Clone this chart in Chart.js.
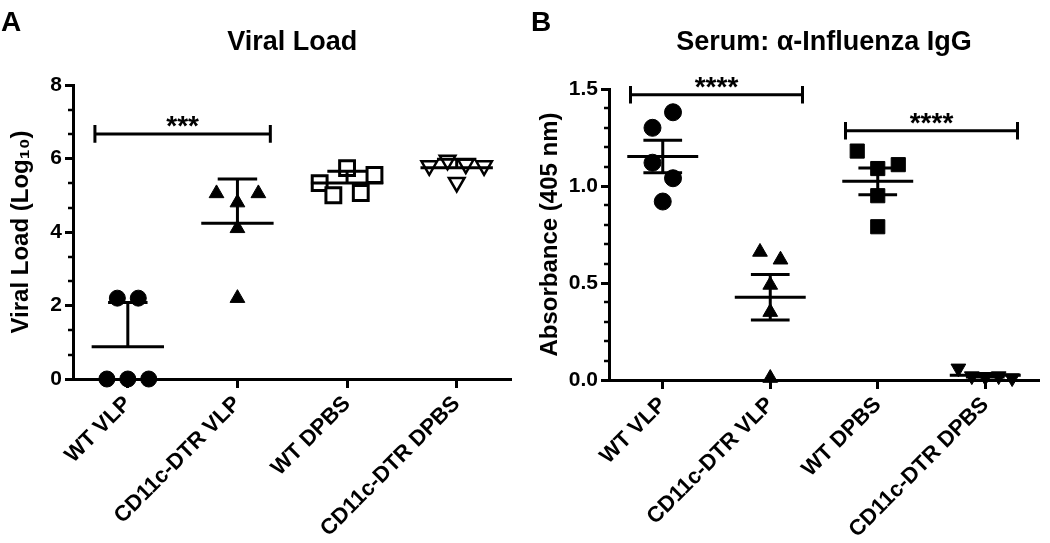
<!DOCTYPE html>
<html>
<head>
<meta charset="utf-8">
<script src="https://cdn.jsdelivr.net/npm/chart.js@4.4.1/dist/chart.umd.min.js"></script>
<style>
  html, body { margin: 0; padding: 0; background: #fff; }
  body { width: 1050px; height: 543px; position: relative; overflow: hidden; }
  .panel { position: absolute; top: 0; width: 525px; height: 543px; }
  .letter { position: absolute; font: bold 28px 'Liberation Sans', Arial, sans-serif; line-height: 28px; color: #000; }
</style>
</head>
<body>
<div class="panel" style="left:0"><canvas id="chartA" width="525" height="543"></canvas></div>
<div class="panel" style="left:525px"><canvas id="chartB" width="525" height="543"></canvas></div>
<div class="letter" style="left:1px;top:8px">A</div>
<div class="letter" style="left:531px;top:8px">B</div>
<script>
const groups = ['WT VLP', 'CD11c-DTR VLP', 'WT DPBS', 'CD11c-DTR DPBS'];

// Panel A - viral load (log10), mean + SD
const loadWtVlp = [0, 0, 0, 2.2, 2.2];
const loadDtrVlp = [5.05, 4.8, 5.05, 4.1, 2.2];
const loadWtDpbs = [5.33, 5.0, 5.74, 5.06, 5.55];
const loadDtrDpbs = [5.8, 5.95, 5.85, 5.8, 5.35];
const loadTicks = [0, 2, 4, 6, 8];
const loadSig = [[0, 1, 6.67, '***']];

// Panel B - serum anti-influenza IgG (A405), mean +/- SEM
const absWtVlp = [1.30, 1.38, 1.12, 1.04, 0.92];
const absDtrVlp = [0.66, 0.62, 0.49, 0.35, 0.01];
const absWtDpbs = [1.18, 1.09, 1.11, 0.95, 0.79];
const absDtrDpbs = [0.06, 0.02, 0.015, 0.02, 0.01];
const absTicks = [0, 0.5, 1.0, 1.5];
const absSig = [[0, 1, 1.47, '****'], [2, 3, 1.285, '****']];

const FONT = "'Liberation Sans', Arial, sans-serif";
const CAT_PX = 110;

function stats(vals) {
  const n = vals.length;
  const mean = vals.reduce((a, b) => a + b, 0) / n;
  const sd = Math.sqrt(vals.reduce((a, v) => a + (v - mean) * (v - mean), 0) / (n - 1));
  return { mean, sd, sem: sd / Math.sqrt(n) };
}

// spread points with close values sideways, like a column scatter
function swarm(vals, pxPerUnit, gap) {
  const idx = vals.map((v, i) => i).sort((a, b) => vals[a] - vals[b]);
  const clusters = [];
  let cur = [idx[0]];
  for (let k = 1; k < idx.length; k++) {
    if ((vals[idx[k]] - vals[idx[k - 1]]) * pxPerUnit < gap) cur.push(idx[k]);
    else { clusters.push(cur); cur = [idx[k]]; }
  }
  clusters.push(cur);
  const off = vals.map(() => 0);
  clusters.forEach(c => {
    const n = c.length;
    if (n < 2) return;
    c.sort((a, b) => a - b);
    const s = Math.min(21, 55 / (n - 1));
    c.forEach((i, k) => { off[i] = (k - (n - 1) / 2) * s; });
  });
  return off.map(o => o / CAT_PX);
}

const minorTicks = {
  id: 'minorTicks',
  afterDraw(chart, args, opts) {
    const y = chart.scales.y, ctx = chart.ctx, left = chart.chartArea.left;
    ctx.save();
    ctx.strokeStyle = '#000';
    ctx.lineWidth = 2.5;
    for (let k = 0; k < opts.majors.length - 1; k++) {
      const a = opts.majors[k], b = opts.majors[k + 1];
      for (let j = 1; j < opts.parts; j++) {
        const py = Math.round(y.getPixelForValue(a + (b - a) * j / opts.parts));
        ctx.beginPath();
        ctx.moveTo(left - 5, py);
        ctx.lineTo(left, py);
        ctx.stroke();
      }
    }
    ctx.restore();
  }
};

const sigStars = {
  id: 'sigStars',
  afterDatasetsDraw(chart, args, opts) {
    const ctx = chart.ctx, x = chart.scales.x, y = chart.scales.y;
    ctx.save();
    ctx.fillStyle = '#000';
    ctx.font = 'bold 28px ' + FONT;
    ctx.textAlign = 'center';
    ctx.textBaseline = 'alphabetic';
    opts.items.forEach(([a, b, level, text]) => {
      const px = (x.getPixelForValue(a - 0.3) + x.getPixelForValue(b + 0.3)) / 2;
      ctx.fillText(text, px, y.getPixelForValue(level) + 1);
    });
    ctx.restore();
  }
};

function buildPanel(canvasId, p) {
  const datasets = [];
  const range = p.ticks[p.ticks.length - 1] - p.ticks[0];
  p.series.forEach((vals, i) => {
    const m = p.markers[i];
    const off = swarm(vals, p.pxPerUnit, p.gap);
    datasets.push({
      data: vals.map((v, k) => ({ x: i + off[k], y: v })),
      pointStyle: m.style,
      pointRadius: m.r,
      pointHoverRadius: m.r,
      pointRotation: m.rot || 0,
      pointBackgroundColor: m.fill,
      pointBorderColor: '#000',
      pointBorderWidth: m.bw,
      clip: false,
      order: 2
    });
    const s = stats(vals);
    const e = p.err === 'sd' ? s.sd : s.sem;
    const top = s.mean + e, low = s.mean - e;
    const pts = [
      { x: i - 0.33, y: s.mean }, { x: i + 0.33, y: s.mean }, { x: i, y: null },
      { x: i, y: s.mean }, { x: i, y: top }, { x: i, y: null },
      { x: i - 0.18, y: top }, { x: i + 0.18, y: top }
    ];
    if (p.both) {
      pts.push({ x: i, y: null }, { x: i, y: s.mean }, { x: i, y: low }, { x: i, y: null },
        { x: i - 0.18, y: low }, { x: i + 0.18, y: low });
    }
    datasets.push({
      data: pts, showLine: true, borderColor: '#000', borderWidth: 3,
      pointRadius: 0, pointHoverRadius: 0, order: 1
    });
  });
  p.sig.forEach(([a, b, level]) => {
    const h = range * 0.03, x1 = a - 0.3, x2 = b + 0.3;
    datasets.push({
      data: [
        { x: x1, y: level + h }, { x: x1, y: level - h }, { x: x1, y: null },
        { x: x1, y: level }, { x: x2, y: level }, { x: x2, y: null },
        { x: x2, y: level + h }, { x: x2, y: level - h }
      ],
      showLine: true, borderColor: '#000', borderWidth: 3,
      pointRadius: 0, pointHoverRadius: 0, clip: false, order: 1
    });
  });

  return new Chart(document.getElementById(canvasId), {
    type: 'scatter',
    data: { datasets },
    plugins: [minorTicks, sigStars],
    options: {
      responsive: false,
      animation: false,
      devicePixelRatio: 1,
      layout: { padding: { left: 0, right: p.padRight, top: 0, bottom: 0 } },
      plugins: {
        legend: { display: false },
        tooltip: { enabled: false },
        title: {
          display: true, text: p.title, color: '#000', fullSize: false,
          font: { family: FONT, size: 27, weight: 'bold' },
          padding: { top: 26, bottom: p.titleGap }
        },
        minorTicks: { majors: p.ticks, parts: p.minorParts },
        sigStars: { items: p.sig }
      },
      scales: {
        x: {
          type: 'linear', min: -0.5, max: 3.5,
          afterBuildTicks: s => { s.ticks = groups.map((g, i) => ({ value: i })); },
          afterFit: s => { s.height = 543 - p.bottom; },
          border: { color: '#000', width: 3 },
          grid: { drawOnChartArea: false, color: '#000', tickLength: 9, tickWidth: 3 },
          ticks: {
            color: '#000', autoSkip: false, minRotation: 45, maxRotation: 45, padding: 3,
            font: { family: FONT, size: 22, weight: 'bold' },
            callback: v => groups[v]
          }
        },
        y: {
          min: p.ticks[0], max: p.ticks[p.ticks.length - 1],
          afterBuildTicks: s => { s.ticks = p.ticks.map(v => ({ value: v })); },
          afterFit: s => { s.width = p.axisX; },
          border: { color: '#000', width: 3 },
          grid: { drawOnChartArea: false, color: '#000', tickLength: 8, tickWidth: 3 },
          ticks: {
            color: '#000', padding: 3,
            font: { family: FONT, size: 21, weight: 'bold' },
            callback: v => p.fmt(v)
          },
          title: {
            display: true, text: p.yTitle, color: '#000',
            font: { family: FONT, size: 24, weight: 'bold' },
            padding: { top: p.yTitlePad, bottom: 0 }
          }
        }
      }
    }
  });
}

buildPanel('chartA', {
  title: 'Viral Load',
  yTitle: 'Viral Load (Log\u2081\u2080)',
  series: [loadWtVlp, loadDtrVlp, loadWtDpbs, loadDtrDpbs],
  markers: [
    { style: 'circle', r: 8, fill: '#000', bw: 1 },
    { style: 'triangle', r: 8.5, fill: '#000', bw: 1 },
    { style: 'rect', r: 10.5, fill: '#fff', bw: 3 },
    { style: 'triangle', r: 9, rot: 180, fill: '#fff', bw: 2.5 }
  ],
  ticks: loadTicks, minorParts: 3, fmt: v => String(v),
  sig: loadSig, err: 'sd', both: false,
  pxPerUnit: 294 / 8, gap: 15,
  axisX: 73, padRight: 12, bottom: 379, titleGap: 26.6, yTitlePad: 6.6
});

buildPanel('chartB', {
  title: 'Serum: \u03b1-Influenza IgG',
  yTitle: 'Absorbance (405 nm)',
  series: [absWtVlp, absDtrVlp, absWtDpbs, absDtrDpbs],
  markers: [
    { style: 'circle', r: 8.5, fill: '#000', bw: 1 },
    { style: 'triangle', r: 8.5, fill: '#000', bw: 1 },
    { style: 'rect', r: 10, fill: '#000', bw: 1 },
    { style: 'triangle', r: 8.5, rot: 180, fill: '#000', bw: 1 }
  ],
  ticks: absTicks, minorParts: 5, fmt: v => v.toFixed(1),
  sig: absSig, err: 'sem', both: true,
  pxPerUnit: 291 / 1.5, gap: 17,
  axisX: 84, padRight: 1, bottom: 380, titleGap: 30.6, yTitlePad: 10.6
});
</script>
</body>
</html>
